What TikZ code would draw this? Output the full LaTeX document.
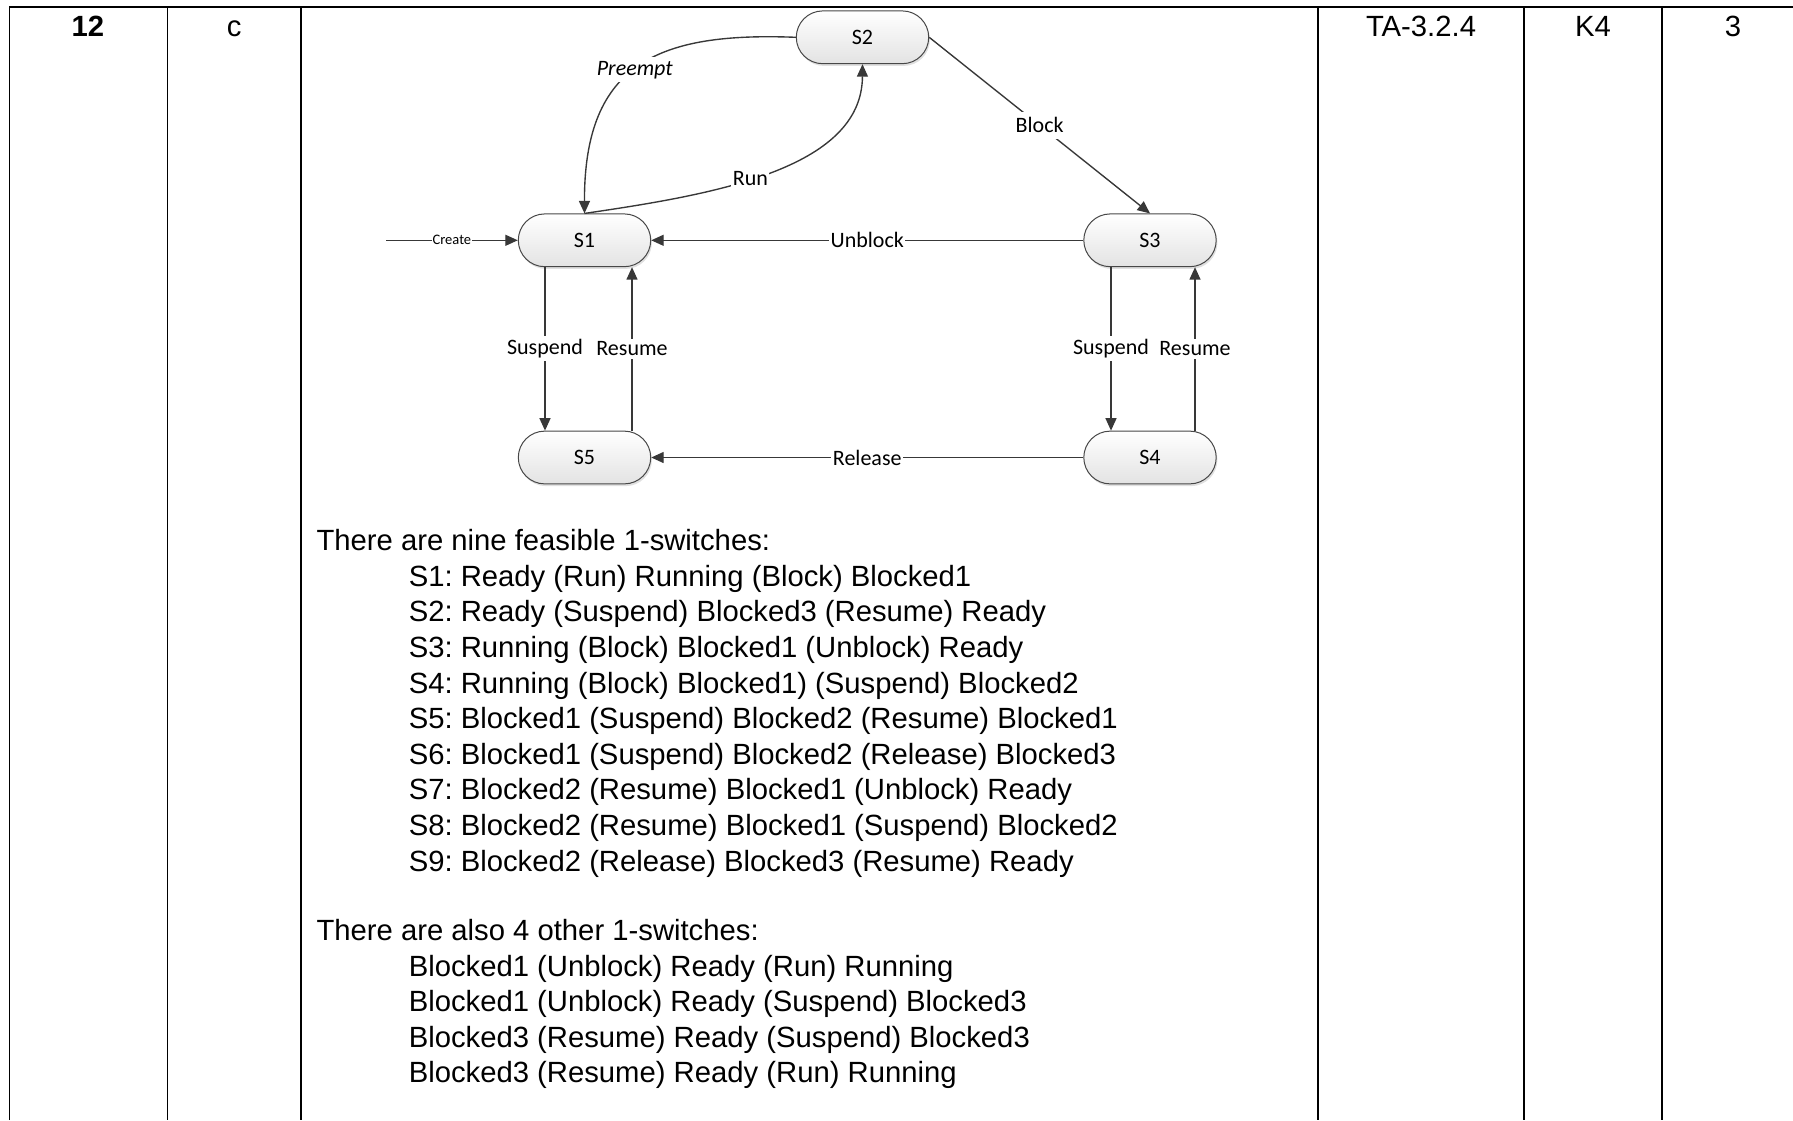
\documentclass[tikz,border=0pt]{standalone}
\usepackage{fontspec}
\setmainfont{Liberation Sans}
\newfontfamily\diagfont{Carlito}
\usetikzlibrary{arrows.meta,shadows,calc}
\frenchspacing
\begin{document}
\begin{tikzpicture}[x=0.4pt,y=-0.4pt,
  tbl/.style={line width=0.7pt, black},
  hdr/.style={anchor=base, inner sep=0pt, font=\fontsize{11.7}{14}\selectfont},
  body/.style={anchor=base west, inner sep=0pt, font=\fontsize{11.7}{14}\selectfont},
  state/.style={draw=black!72, line width=0.4pt, rounded corners=10.55pt,
    minimum width=52.96pt, minimum height=21.1pt, inner sep=0pt,
    top color=white, bottom color=black!11,
    drop shadow={shadow xshift=0.5pt, shadow yshift=-0.9pt, opacity=0.3, fill=black!40},
    font=\diagfont\fontsize{8.8}{10}\selectfont},
  conn/.style={draw=black!78, line width=0.55pt},
  arr/.style={conn, -{Triangle[length=5pt,width=4.4pt]}},
  lbl/.style={fill=white, inner sep=0.6pt, text=black, font=\diagfont\fontsize{8.8}{10}\selectfont},
]
\useasboundingbox (0,0) rectangle (1793,1120);

% table grid
\draw[tbl] (9.6,1120) -- (9.6,7.3) -- (1793,7.3);
\foreach \cx in {167.5,301,1318,1524,1662} {
  \draw[tbl] (\cx,7.3) -- (\cx,1120);
}

% header cells
\node[hdr, font=\fontsize{11.7}{14}\selectfont\bfseries] (h1) at (88,36) {12};
\node[hdr] (h2) at (234.2,36) {c};
\node[hdr] (h3) at (1421,36) {TA-3.2.4};
\node[hdr] (h4) at (1593,36) {K4};
\node[hdr] (h5) at (1733,36) {3};

% body text
\node[body] (t0) at (316,550.7) {There are nine feasible 1-switches:};
\node[body] (t1) at (408.3,586.3) {S1: Ready (Run) Running (Block) Blocked1};
\node[body] (t2) at (408.3,621.9) {S2: Ready (Suspend) Blocked3 (Resume) Ready};
\node[body] (t3) at (408.3,657.5) {S3: Running (Block) Blocked1 (Unblock) Ready};
\node[body] (t4) at (408.3,693.1) {S4: Running (Block) Blocked1) (Suspend) Blocked2};
\node[body] (t5) at (408.3,728.7) {S5: Blocked1 (Suspend) Blocked2 (Resume) Blocked1};
\node[body] (t6) at (408.3,764.3) {S6: Blocked1 (Suspend) Blocked2 (Release) Blocked3};
\node[body] (t7) at (408.3,799.9) {S7: Blocked2 (Resume) Blocked1 (Unblock) Ready};
\node[body] (t8) at (408.3,835.5) {S8: Blocked2 (Resume) Blocked1 (Suspend) Blocked2};
\node[body] (t9) at (408.3,871.1) {S9: Blocked2 (Release) Blocked3 (Resume) Ready};
\node[body] (u0) at (316,940.5) {There are also 4 other 1-switches:};
\node[body] (u1) at (408.3,976.1) {Blocked1 (Unblock) Ready (Run) Running};
\node[body] (u2) at (408.3,1011.7) {Blocked1 (Unblock) Ready (Suspend) Blocked3};
\node[body] (u3) at (408.3,1047.3) {Blocked3 (Resume) Ready (Suspend) Blocked3};
\node[body] (u4) at (408.3,1082.9) {Blocked3 (Resume) Ready (Run) Running};

% states
\node[state] (S2) at (862.5,37.3) {S2};
\node[state] (S1) at (584.5,240.3) {S1};
\node[state] (S3) at (1150,240.3) {S3};
\node[state] (S5) at (584.5,457.5) {S5};
\node[state] (S4) at (1150,457.5) {S4};

% helper coordinates
\coordinate (cs) at (386,240.3);
\coordinate (xa) at (545,0);
\coordinate (xb) at (632,0);
\coordinate (xc) at (1111,0);
\coordinate (xd) at (1195,0);

% transitions
\draw[arr] (cs) -- node[lbl, inner sep=0.3pt, font=\diagfont\fontsize{5.8}{7}\selectfont] {Create} (S1.west);
\draw[arr] (S3.west) -- node[lbl] {Unblock} (S1.east);
\draw[arr] (S4.west) -- node[lbl] {Release} (S5.east);
\draw[arr] (S2.east) -- node[lbl, inner sep=2.2pt] {Block} (S3.north);
\draw[arr] (S2.west) .. controls (660,32) and (584,62) .. node[lbl, pos=0.52, inner sep=1.5pt, font=\diagfont\itshape\fontsize{8.8}{10}\selectfont] {Preempt} (S1.north);
\draw[arr] (S1.north) .. controls (710,195) and (862,170) .. node[lbl, pos=0.44] {Run} (S2.south);
\draw[arr] (S1.south -| xa) -- node[lbl, inner sep=1.2pt] {Suspend} (S5.north -| xa);
\draw[arr] (S5.north -| xb) -- node[lbl, inner sep=1.2pt] {Resume} (S1.south -| xb);
\draw[arr] (S3.south -| xc) -- node[lbl, inner sep=1.2pt] {Suspend} (S4.north -| xc);
\draw[arr] (S4.north -| xd) -- node[lbl, inner sep=1.2pt] {Resume} (S3.south -| xd);
\end{tikzpicture}
\end{document}
